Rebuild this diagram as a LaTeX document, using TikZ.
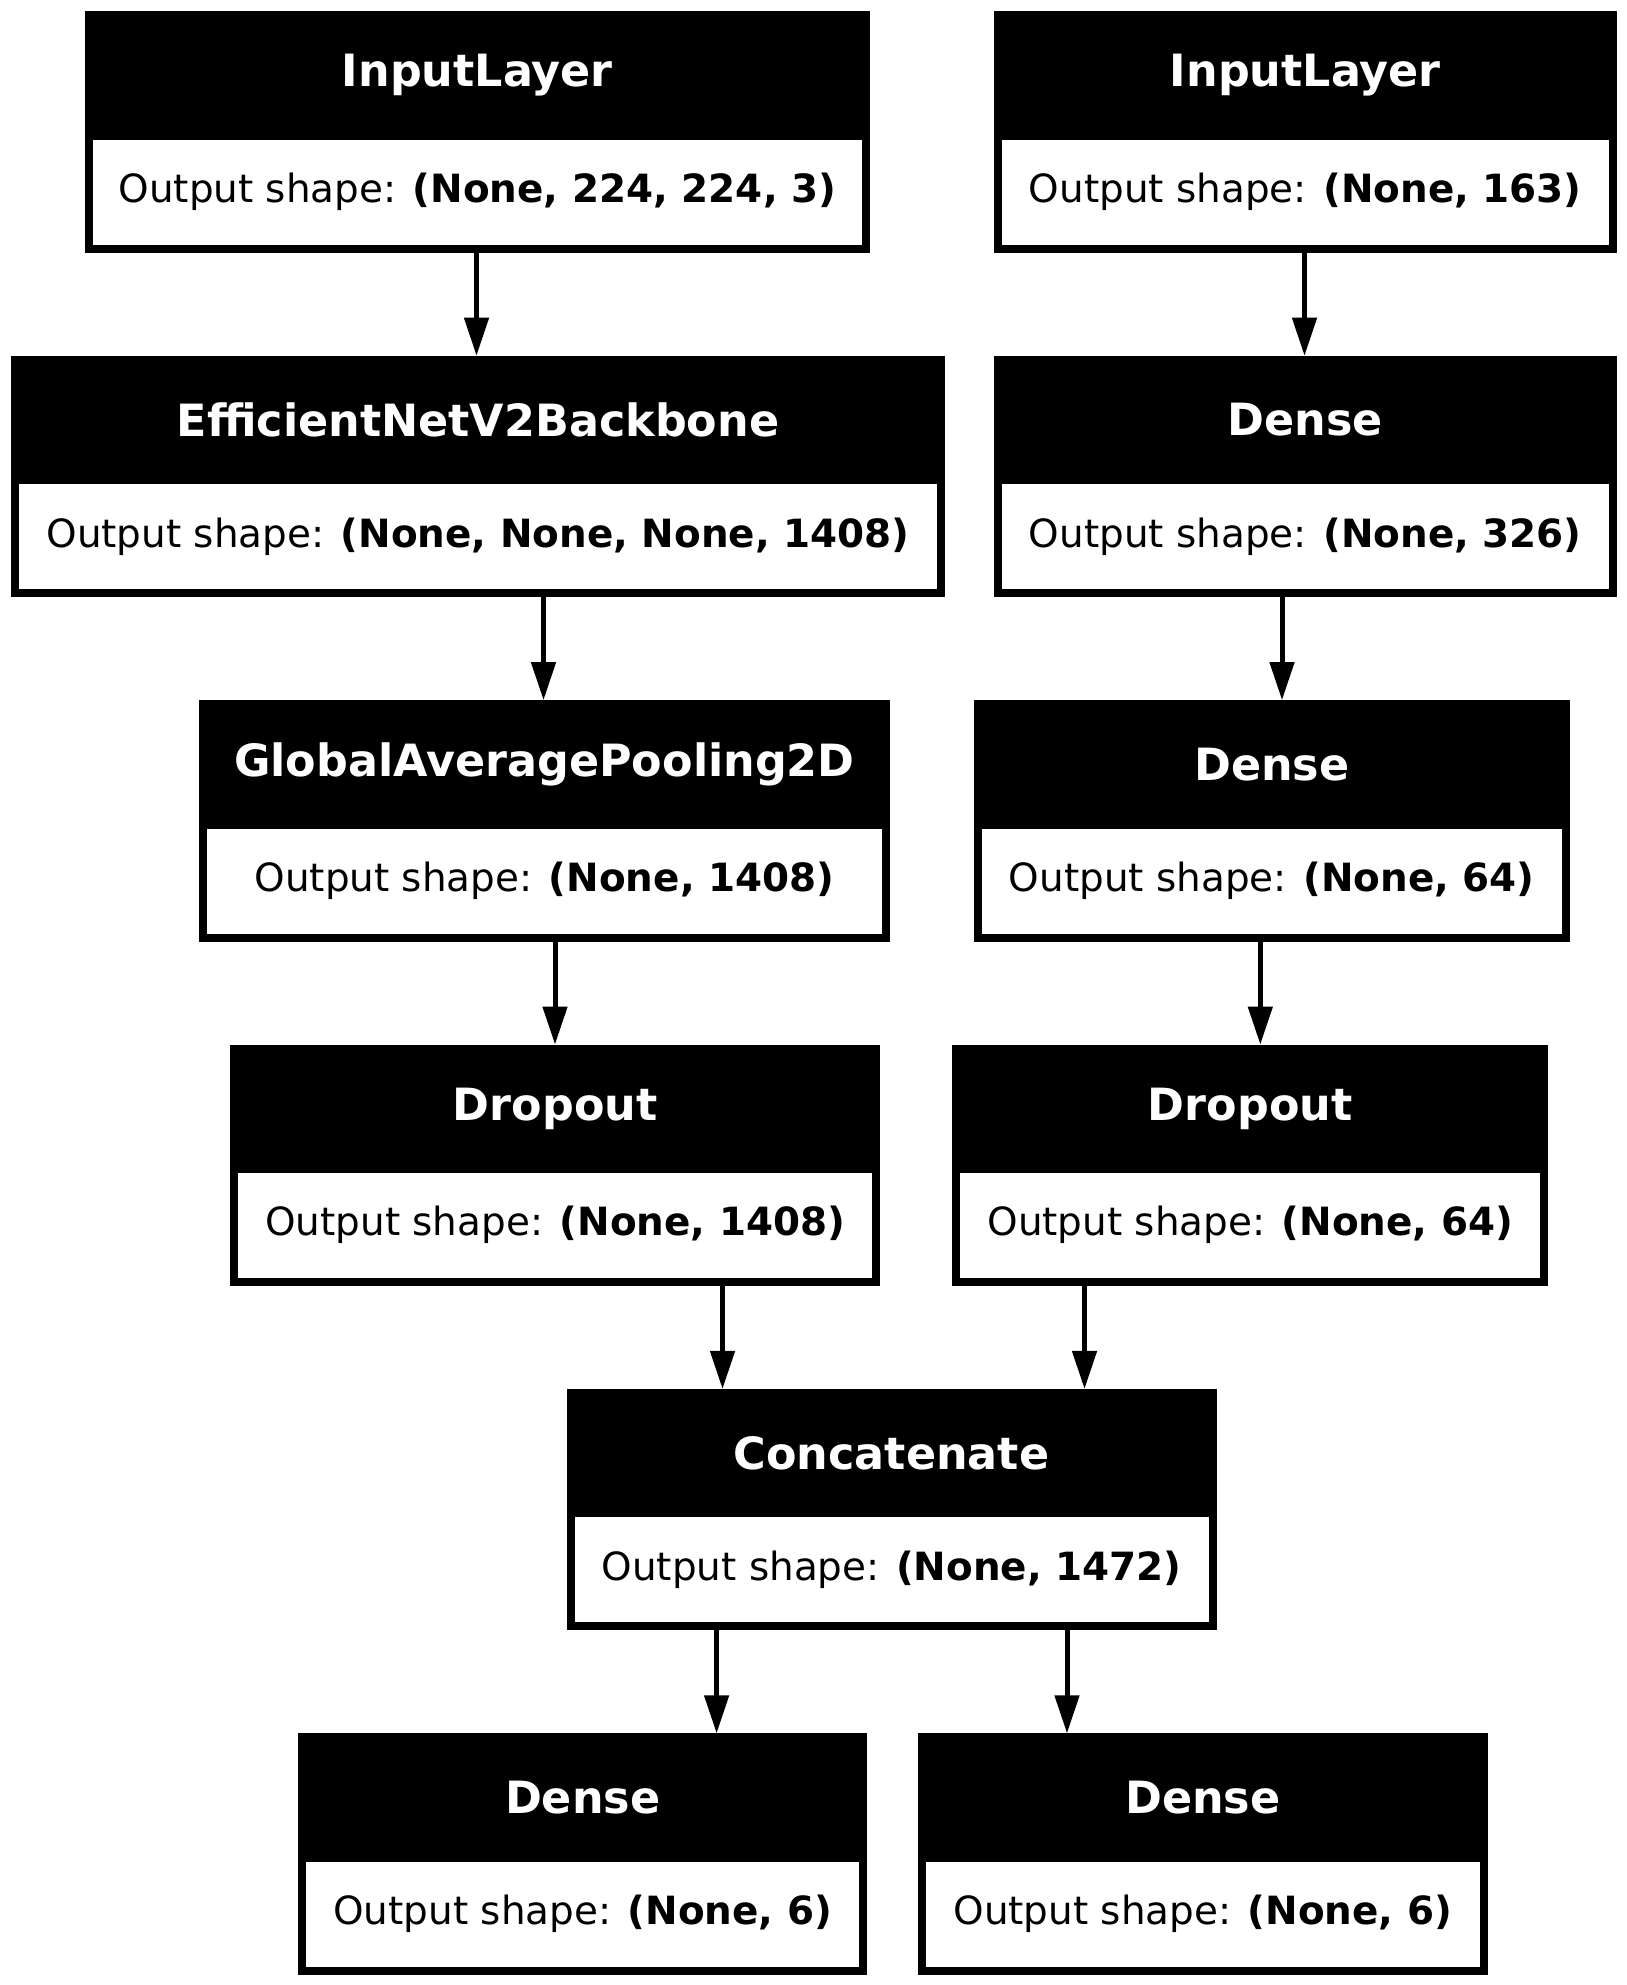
\documentclass[tikz,border=0pt]{standalone}
\usepackage{fontspec}
\setmainfont{DejaVu Sans}
\usetikzlibrary{arrows.meta,fit}
\tikzset{
  outerbox/.style={fill=black, draw=none, inner sep=0pt, outer sep=0pt},
  titletext/.style={text=white, font=\fontsize{16pt}{19pt}\selectfont\bfseries, inner sep=0pt},
  shapetext/.style={text=black, font=\fontsize{14pt}{17pt}\selectfont, inner sep=0pt},
  arr/.style={line width=1.8pt, -{Triangle[length=13.7pt, width=8.6pt]}}
}
% #1 name, #2 left x, #3 right x, #4 top y, #5 title, #6 shape
\newcommand\kerasLayer[6]{%
  \path (#2,#4) coordinate (#1-nw) (#3,#4+241.4) coordinate (#1-se);
  \node[outerbox, fit=(#1-nw)(#1-se)] (#1) {};
  \fill[white] (#2+8,#4+128.4) rectangle (#3-8,#4+233.4);
  \node[titletext] (#1-title) at ({(#2+#3)/2},#4+64) {#5};
  \node[shapetext] (#1-shape) at ({(#2+#3)/2},#4+180.5) {Output shape: \textbf{#6}};
}
\begin{document}
\begin{tikzpicture}[x=0.36pt,y=-0.36pt]
\useasboundingbox[fill=white] (0,0) rectangle (1627,1985);

\kerasLayer{inA}{84.8}{869.8}{11.4}{InputLayer}{(None, 224, 224, 3)}
\kerasLayer{inB}{993.9}{1616.8}{11.4}{InputLayer}{(None, 163)}
\kerasLayer{eff}{11.4}{944.5}{355.8}{EfficientNetV2Backbone}{(None, None, None, 1408)}
\kerasLayer{denA}{993.9}{1616.8}{355.8}{Dense}{(None, 326)}
\kerasLayer{gap}{198.8}{890.1}{700.2}{GlobalAveragePooling2D}{(None, 1408)}
\kerasLayer{denB}{973.6}{1570}{700.2}{Dense}{(None, 64)}
\kerasLayer{dropA}{230.4}{880}{1044.6}{Dropout}{(None, 1408)}
\kerasLayer{dropB}{952.1}{1548.4}{1044.6}{Dropout}{(None, 64)}
\kerasLayer{cat}{566.5}{1216.6}{1389}{Concatenate}{(None, 1472)}
\kerasLayer{outA}{298}{867.3}{1733.4}{Dense}{(None, 6)}
\kerasLayer{outB}{917.5}{1488}{1733.4}{Dense}{(None, 6)}

\draw[arr] (476.5,0 |- inA.south) -- (476.5,0 |- eff.north);
\draw[arr] (1304.5,0 |- inB.south) -- (1304.5,0 |- denA.north);
\draw[arr] (543.5,0 |- eff.south) -- (543.5,0 |- gap.north);
\draw[arr] (1282,0 |- denA.south) -- (1282,0 |- denB.north);
\draw[arr] (555,0 |- gap.south) -- (555,0 |- dropA.north);
\draw[arr] (1260.3,0 |- denB.south) -- (1260.3,0 |- dropB.north);
\draw[arr] (722.5,0 |- dropA.south) -- (722.5,0 |- cat.north);
\draw[arr] (1084.5,0 |- dropB.south) -- (1084.5,0 |- cat.north);
\draw[arr] (716.6,0 |- cat.south) -- (716.6,0 |- outA.north);
\draw[arr] (1067,0 |- cat.south) -- (1067,0 |- outB.north);
\end{tikzpicture}
\end{document}
